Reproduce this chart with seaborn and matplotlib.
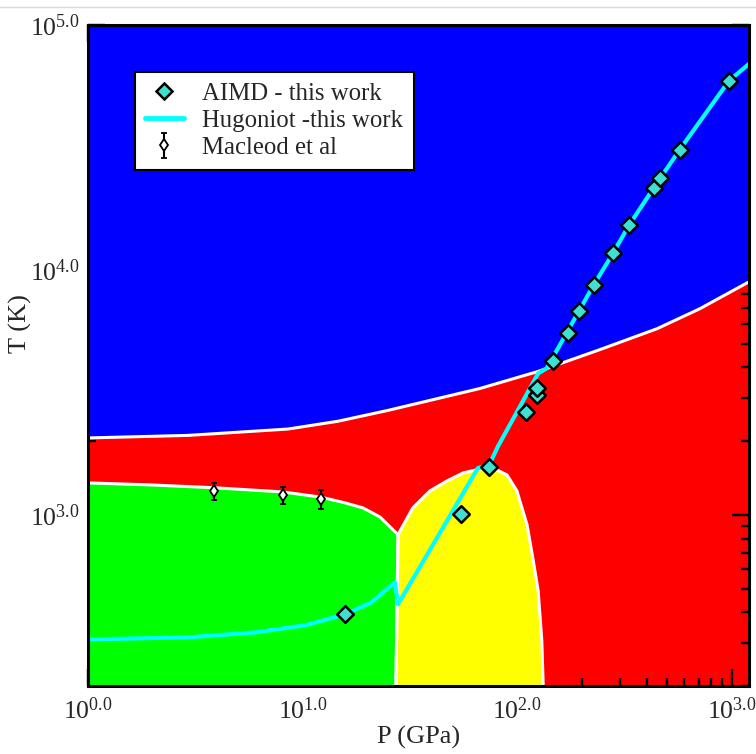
import numpy as np
import matplotlib

matplotlib.use("Agg")
import matplotlib.pyplot as plt
from matplotlib.lines import Line2D
from matplotlib.ticker import LogLocator, FuncFormatter, NullFormatter
import seaborn as sns


# axis range
P_MIN, P_MAX = 1.0, 1200.0
T_MIN, T_MAX = 200.0, 1.0e5

# blue / red phase boundary
BLUE_P = [1.0, 2.92, 8.54, 14.6, 25.0, 67.0, 125, 243, 447, 708, 1200]
BLUE_T = [2060, 2110, 2240, 2410, 2670, 3280, 3850, 4730, 5750, 6940, 8940]

# green region (top edge, then down to the bottom)
GREEN_P = [1.0, 1.945, 3.86, 8.09, 12.2, 15.7, 19.1, 22.9, 27.8, 27.2]
GREEN_T = [1350, 1325, 1290, 1240, 1180, 1120, 1067, 980, 830, 200]

# yellow dome
YELLOW_P = [27.2, 27.8, 32.6, 39.2, 47.0, 55.8, 67.0, 76.9, 89.5, 99.5,
            111, 118, 125, 130, 132]
YELLOW_T = [200, 830, 1067, 1253, 1375, 1482, 1538, 1553, 1455, 1253,
            910, 668, 491, 307, 200]

# Hugoniot - this work
HUG_P = [1.0, 2.92, 6.0, 10.3, 15.7, 20.8, 26.9, 27.8, 65.5, 74.0, 81.3,
         125, 137, 194, 227, 279, 331, 433, 571, 967, 1200]
HUG_T = [310, 316, 331, 354, 392, 438, 530, 431, 1552, 1600, 1905,
         3776, 3966, 6810, 8690, 11700, 15200, 21700, 31000, 59100, 69400]

# AIMD - this work
AIMD_P = [15.7, 54.6, 73.7, 110, 123, 123, 147, 172, 194, 227, 279, 331,
          433, 462, 571, 967]
AIMD_T = [392, 1009, 1567, 2620, 3080, 3280, 4230, 5550, 6810, 8690, 11700,
          15200, 21700, 23700, 31000, 59100]

# Macleod et al
MAC_P = [3.86, 8.09, 12.2]
MAC_T = [1252, 1205, 1161]
MAC_ERR = [100, 100, 100]

LEGEND_LABELS = ["AIMD - this work", "Hugoniot -this work", "Macleod et al"]

sns.set_theme(style="ticks")
plt.rcParams["font.family"] = ["Liberation Serif", "DejaVu Serif"]
plt.rcParams["mathtext.fontset"] = "custom"
plt.rcParams["mathtext.rm"] = "Liberation Serif"
plt.rcParams["mathtext.it"] = "Liberation Serif:italic"

fig = plt.figure(figsize=(7.56, 7.54), dpi=100)
ax = fig.add_axes([88 / 756, 1 - 686 / 754, 661 / 756, 661 / 754])
ax.set_xscale("log")
ax.set_yscale("log")
ax.set_xlim(P_MIN, P_MAX)
ax.set_ylim(T_MIN, T_MAX)
ax.set_facecolor("#ff0000")

# phase regions
ax.fill_between(BLUE_P, BLUE_T, T_MAX, color="#0000ff", lw=0, zorder=1)
ax.fill(GREEN_P + [P_MIN], GREEN_T + [T_MIN], color="#00ff00", lw=0, zorder=1)
ax.fill(YELLOW_P, YELLOW_T, color="#ffff00", lw=0, zorder=1)

ax.plot(BLUE_P, BLUE_T, color="white", lw=2.2, zorder=2)
ax.plot(GREEN_P, GREEN_T, color="white", lw=2.2, zorder=2)
ax.plot(YELLOW_P, YELLOW_T, color="white", lw=2.2, zorder=2)

sns.lineplot(x=HUG_P, y=HUG_T, sort=False, estimator=None, color="#00ffff",
             lw=3, ax=ax, zorder=3)
sns.scatterplot(x=AIMD_P, y=AIMD_T, marker="D", s=72, color="#40e0d0",
                edgecolor="black", linewidth=1.8, ax=ax, zorder=5)
mac = ax.errorbar(MAC_P, MAC_T, yerr=MAC_ERR, fmt="d", ms=6, mfc="white",
                  mec="black", mew=1.3, ecolor="black", elinewidth=1.5,
                  capsize=2.2, capthick=2, zorder=6)

# axes styling
fmt = FuncFormatter(lambda v, pos: r"$\mathregular{10^{%.1f}}$" % np.log10(v))
for axis in (ax.xaxis, ax.yaxis):
    axis.set_major_locator(LogLocator(base=10, numticks=20))
    axis.set_minor_locator(LogLocator(base=10, subs=np.arange(2, 10), numticks=20))
    axis.set_major_formatter(fmt)
    axis.set_minor_formatter(NullFormatter())

ax.tick_params(which="both", direction="in", top=True, right=True,
               width=1.7, color="black", labelsize=18.5)
ax.tick_params(axis="x", pad=8)
ax.tick_params(axis="y", pad=6)
ax.tick_params(which="major", length=12)
ax.tick_params(which="minor", length=6)
for sp in ax.spines.values():
    sp.set_linewidth(2.2)
    sp.set_color("black")
    sp.set_zorder(10)

ax.set_xlabel("P (GPa)", fontsize=19, labelpad=2)
ax.set_ylabel("T (K)", fontsize=19)
ax.yaxis.set_label_coords(-0.084, 0.548)

handles = [
    Line2D([], [], marker="D", ls="none", ms=8.5, mfc="#40e0d0", mec="black", mew=1.8),
    Line2D([], [], color="#00ffff", lw=3.5),
    mac,
]
leg = ax.legend(handles=handles, labels=LEGEND_LABELS, loc="upper left",
                bbox_to_anchor=(0.071, 0.929), borderaxespad=0, frameon=True,
                fancybox=False, edgecolor="black", framealpha=1, fontsize=17.8,
                handlelength=1.55, handletextpad=0.75, labelspacing=0.2,
                borderpad=0.42)
leg.get_frame().set_linewidth(1.5)
leg.set_zorder(20)

fig.add_artist(Line2D([0, 1], [1 - 7 / 754] * 2, transform=fig.transFigure,
                      color="#d9d9d9", lw=1))

fig.savefig("out.png", dpi=100)
